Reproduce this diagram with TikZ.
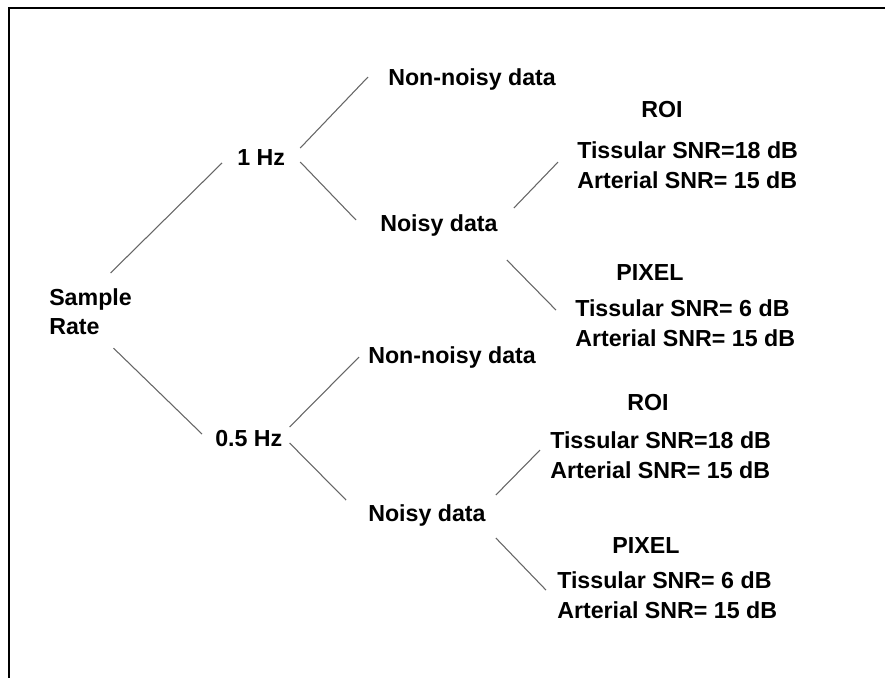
\documentclass[tikz,border=0pt]{standalone}
\usepackage{fontspec}
\setmainfont{Liberation Sans}
\usetikzlibrary{calc}
\begin{document}
\begin{tikzpicture}[x=0.75pt, y=-0.75pt,
    lbl/.style={font=\fontsize{17.4}{22.2}\selectfont\bfseries, inner sep=0pt, text height=12.4pt, text depth=0pt},
    snrblock/.style={font=\fontsize{17.4}{22.2}\selectfont\bfseries, inner sep=0pt, align=left, anchor=north west},
    branch/.style={draw=black!60, line width=0.8pt}]
    \useasboundingbox (0,0) rectangle (885,678);

    % Cadre
    \draw[line width=1.6pt] (9,678) -- (9,8) -- (885,8);

    % Racine
    \node[snrblock] (rate) at (49,288) {Sample\\Rate};

    % Cadences
    \node[lbl, anchor=west] (hz1) at (237,157) {1 Hz};
    \node[lbl, anchor=west] (hz05) at (215,438) {0.5 Hz};

    % Donnees
    \node[lbl, anchor=west] (clean1) at (388,77) {Non-noisy data};
    \node[lbl, anchor=west] (noisy1) at (380,223) {Noisy data};
    \node[lbl, anchor=west] (clean2) at (368,355) {Non-noisy data};
    \node[lbl, anchor=west] (noisy2) at (368,513) {Noisy data};

    % ROI / PIXEL (1 Hz)
    \node[lbl] (roi1) at (662,109) {ROI};
    \node[snrblock] (snr1) at (577,141.5) {Tissular SNR=18 dB\\Arterial SNR= 15 dB};
    \node[lbl] (pix1) at (650,272) {PIXEL};
    \node[snrblock] (snr2) at (575,299.5) {Tissular SNR= 6 dB\\Arterial SNR= 15 dB};

    % ROI / PIXEL (0.5 Hz)
    \node[lbl] (roi2) at (648,402) {ROI};
    \node[snrblock] (snr3) at (550,431.5) {Tissular SNR=18 dB\\Arterial SNR= 15 dB};
    \node[lbl] (pix2) at (646,545) {PIXEL};
    \node[snrblock] (snr4) at (557,571.5) {Tissular SNR= 6 dB\\Arterial SNR= 15 dB};

    % Branches
    \draw[branch] ($(rate.north)+(20,-15)$) -- ($(hz1.west)+(-15,6)$);
    \draw[branch] ($(rate.south)+(23,13)$) -- ($(hz05.west)+(-13,-4)$);
    \draw[branch] ($(hz1.east)+(15,-9)$) -- ($(clean1.west)+(-20,0)$);
    \draw[branch] ($(hz1.east)+(15,5)$) -- ($(noisy1.west)+(-24,-3)$);
    \draw[branch] ($(noisy1.east)+(16,-15)$) -- ($(snr1.west)+(-19,-3)$);
    \draw[branch] ($(noisy1.east)+(9,37)$) -- ($(snr2.west)+(-19,-13)$);
    \draw[branch] ($(hz05.east)+(7,-11)$) -- ($(clean2.west)+(-9,2)$);
    \draw[branch] ($(hz05.east)+(7,5)$) -- ($(noisy2.west)+(-22,-13)$);
    \draw[branch] ($(noisy2.east)+(10,-18)$) -- ($(snr3.west)+(-10,-5)$);
    \draw[branch] ($(noisy2.east)+(10,25)$) -- ($(snr4.west)+(-11,-5)$);

\end{tikzpicture}
\end{document}
